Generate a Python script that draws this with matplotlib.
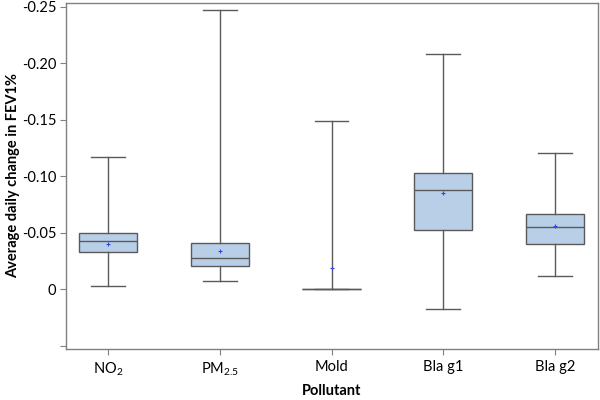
import matplotlib
matplotlib.use("Agg")
import matplotlib.pyplot as plt

plt.rcParams['font.family'] = ['Lato', 'DejaVu Sans']
plt.rcParams['mathtext.fontset'] = 'custom'
plt.rcParams['mathtext.rm'] = 'Lato'
plt.rcParams['mathtext.default'] = 'rm'

# data (y axis is inverted)
pollutants = ['NO$_2$', 'PM$_{2.5}$', 'Mold', 'Bla g1', 'Bla g2']
whis_lo = [-0.003, -0.0076, 0.0, 0.0177, -0.0115]
q1 = [-0.0327, -0.021, 0.0, -0.0527, -0.0398]
medians = [-0.0425, -0.028, 0.0, -0.0876, -0.0557]
q3 = [-0.050, -0.0407, 0.0, -0.103, -0.0664]
whis_hi = [-0.1168, -0.247, -0.1487, -0.208, -0.121]
means = [-0.040, -0.034, -0.019, -0.085, -0.056]

yticks = [-0.25, -0.20, -0.15, -0.10, -0.05, 0.0, 0.05]
ytick_labels = ['-0.25', '-0.20', '-0.15', '-0.10', '-0.05', '0', '']

stats = []
for i, name in enumerate(pollutants):
    stats.append({'label': name, 'whislo': whis_lo[i], 'q1': q1[i], 'med': medians[i],
                  'q3': q3[i], 'whishi': whis_hi[i], 'mean': means[i], 'fliers': []})

fig = plt.figure(figsize=(6, 4), dpi=100)
ax = fig.add_axes([0.11, 0.1275, 0.8867, 0.865])

edge = '#5a5a5a'
ax.bxp(stats, positions=range(1, 6), widths=0.52, patch_artist=True, showmeans=True,
       showfliers=False,
       boxprops=dict(facecolor='#b9cfe8', edgecolor=edge, linewidth=1.0),
       medianprops=dict(color=edge, linewidth=1.0),
       whiskerprops=dict(color=edge, linewidth=1.0),
       capprops=dict(color=edge, linewidth=1.0),
       capwidths=0.30,
       meanprops=dict(marker='+', markersize=3, markeredgecolor='#3344ee',
                      markeredgewidth=0.8, linestyle='none'))

ax.set_xlim(0.624, 5.385)
ax.set_ylim(0.0527, -0.2535)
ax.set_yticks(yticks)
ax.set_yticklabels(ytick_labels)
ax.set_xticks(range(1, 6))
ax.set_xticklabels(pollutants)
ax.tick_params(axis='both', color='#808080', length=4, direction='out')
ax.tick_params(axis='y', labelsize=10.5, pad=3)
ax.tick_params(axis='x', labelsize=10.5, pad=4)
for s in ax.spines.values():
    s.set_color('#808080')
    s.set_linewidth(1.0)

ax.set_ylabel('Average daily change in FEV1%', fontsize=10.5, fontweight='bold')
ax.yaxis.set_label_coords(-0.086, 0.5)
ax.set_xlabel('Pollutant', fontsize=10.5, fontweight='bold', labelpad=5)

fig.savefig('out.png', dpi=100)
